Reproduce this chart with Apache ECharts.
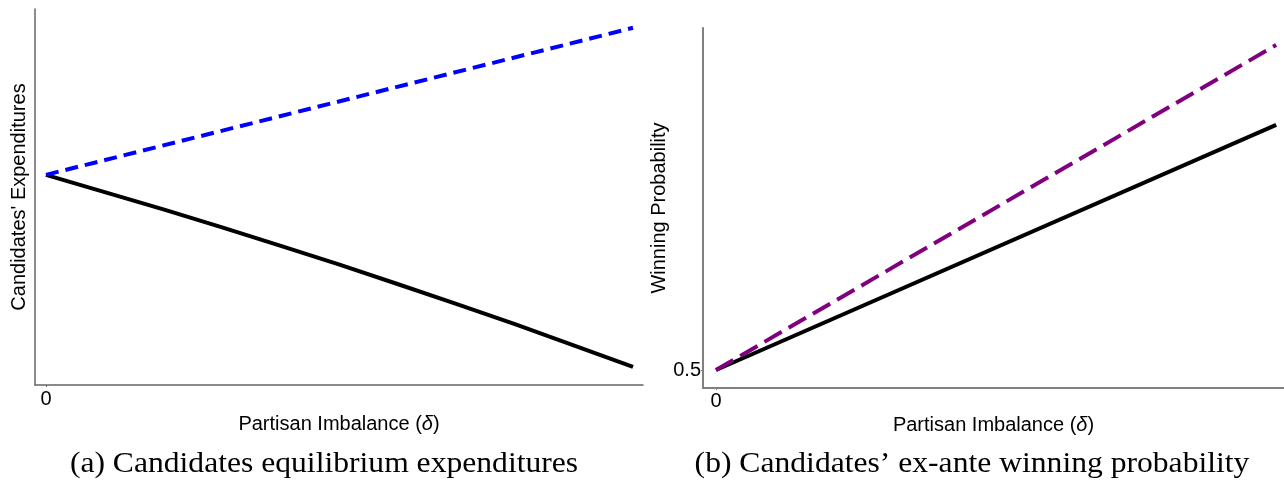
<!DOCTYPE html>
<html>
<head>
<meta charset="utf-8">
<title>Partisan imbalance</title>
<script src="https://cdn.jsdelivr.net/npm/echarts@6/dist/echarts.min.js"></script>
<style>
  html, body { margin: 0; padding: 0; background: #fff; }
  #chart { width: 1284px; height: 482px; }
</style>
</head>
<body>
<div id="chart"></div>
<script>
// Panel (a): equilibrium expenditures against partisan imbalance
const deltaA = [0, 0.1, 0.2, 0.3, 0.4, 0.5, 0.6, 0.7, 0.8, 0.9, 1.0];
const expendRising = [0.559, null, null, null, null, null, null, null, null, null, 0.950];
const expendFalling = [0.559, 0.513, 0.467, 0.419, 0.370, 0.320, 0.268, 0.215, 0.161, 0.105, 0.048];

// Panel (b): ex-ante winning probability against partisan imbalance
const deltaB = [0, 1.0];
const winDashed = [0.5, 0.85];
const winSolid = [0.5, 0.764];

// Tick labels
const xTicks = [0];
const yTicksB = [0.5];

const xName = 'Partisan Imbalance ({i|δ})';
const yNameA = "Candidates' Expenditures";
const yNameB = 'Winning Probability';
const captionA = '(a) Candidates equilibrium expenditures';
const captionB = '(b) Candidates\u2019 ex-ante winning probability';

const sans = 'Liberation Sans, Arial, sans-serif';
const serif = 'Liberation Serif, Times New Roman, serif';

function pairs(xs, ys) {
  const out = [];
  xs.forEach((x, i) => { if (ys[i] !== null) out.push([x, ys[i]]); });
  return out;
}

const nameStyle = {
  fontFamily: sans, fontSize: 20, color: '#000',
  rich: { i: { fontFamily: sans, fontSize: 20, fontStyle: 'italic', color: '#000' } }
};

const chart = echarts.init(document.getElementById('chart'), null, { renderer: 'canvas' });

chart.setOption({
  animation: false,
  backgroundColor: '#fff',
  grid: [
    { left: 35, top: 9, width: 608, height: 376 },
    { left: 703, top: 28, width: 581, height: 360 }
  ],
  xAxis: [
    {
      gridIndex: 0, type: 'value', min: -0.0187, max: 1.017,
      name: xName, nameLocation: 'middle', nameGap: 29, nameTextStyle: nameStyle,
      axisLine: { show: true, onZero: false, lineStyle: { color: '#666', width: 1.5 } },
      axisTick: { show: true, length: 2, customValues: xTicks, lineStyle: { color: '#666' } },
      axisLabel: { show: true, customValues: xTicks, margin: 4, fontFamily: sans, fontSize: 20, color: '#000' },
      splitLine: { show: false }
    },
    {
      gridIndex: 1, type: 'value', min: -0.0232, max: 1.014,
      name: xName, nameLocation: 'middle', nameGap: 27, nameTextStyle: nameStyle,
      axisLine: { show: true, onZero: false, lineStyle: { color: '#808080', width: 2 } },
      axisTick: { show: true, length: 2, customValues: xTicks, lineStyle: { color: '#808080' } },
      axisLabel: { show: true, customValues: xTicks, margin: 3, fontFamily: sans, fontSize: 20, color: '#000' },
      splitLine: { show: false }
    }
  ],
  yAxis: [
    {
      gridIndex: 0, type: 'value', min: 0, max: 1,
      name: yNameA, nameLocation: 'middle', nameGap: 6, nameTextStyle: nameStyle,
      axisLine: { show: true, onZero: false, lineStyle: { color: '#666', width: 1.5 } },
      axisTick: { show: false },
      axisLabel: { show: false },
      splitLine: { show: false }
    },
    {
      gridIndex: 1, type: 'value', min: 0.4806, max: 0.8683,
      name: yNameB, nameLocation: 'middle', nameGap: 31, nameTextStyle: nameStyle,
      axisLine: { show: true, onZero: false, lineStyle: { color: '#808080', width: 2 } },
      axisTick: { show: true, length: 2, customValues: yTicksB, lineStyle: { color: '#808080' } },
      axisLabel: { show: true, customValues: yTicksB, margin: 2, fontFamily: sans, fontSize: 20, color: '#000' },
      splitLine: { show: false }
    }
  ],
  series: [
    {
      type: 'line', xAxisIndex: 0, yAxisIndex: 0, data: pairs(deltaA, expendFalling),
      showSymbol: false, symbol: 'none', z: 3,
      lineStyle: { color: '#000', width: 4, cap: 'butt' }
    },
    {
      type: 'line', xAxisIndex: 0, yAxisIndex: 0, data: pairs(deltaA, expendRising),
      showSymbol: false, symbol: 'none', z: 4,
      lineStyle: { color: '#0000ff', width: 4, type: [13, 7], cap: 'butt' }
    },
    {
      type: 'line', xAxisIndex: 1, yAxisIndex: 1, data: pairs(deltaB, winSolid),
      showSymbol: false, symbol: 'none', z: 3,
      lineStyle: { color: '#000', width: 4, cap: 'butt' }
    },
    {
      type: 'line', xAxisIndex: 1, yAxisIndex: 1, data: pairs(deltaB, winDashed),
      showSymbol: false, symbol: 'none', z: 4,
      lineStyle: { color: '#800080', width: 4, type: [20, 8], cap: 'butt' }
    }
  ],
  graphic: [
    {
      type: 'text', x: 324, y: 464, scaleX: 1.09,
      style: { text: captionA, font: '29px ' + serif, fill: '#000', align: 'center', verticalAlign: 'middle' }
    },
    {
      type: 'text', x: 972, y: 464, scaleX: 1.09,
      style: { text: captionB, font: '29px ' + serif, fill: '#000', align: 'center', verticalAlign: 'middle' }
    }
  ]
});
</script>
</body>
</html>
